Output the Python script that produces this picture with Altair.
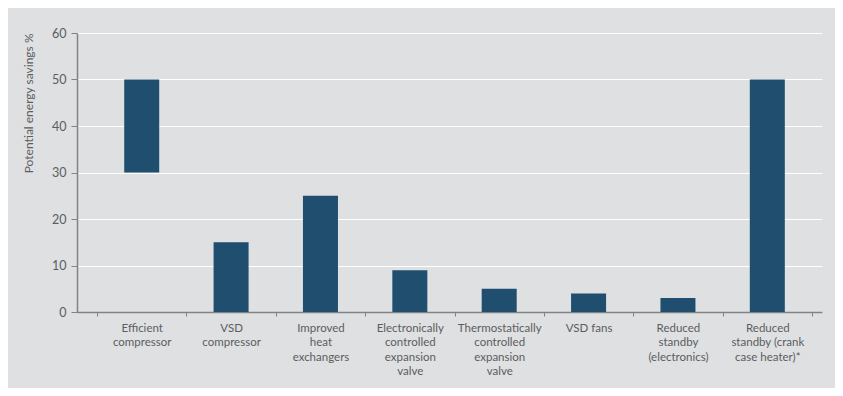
import altair as alt
import pandas as pd

categories = [
    "Efficient|compressor",
    "VSD|compressor",
    "Improved|heat|exchangers",
    "Electronically|controlled|expansion|valve",
    "Thermostatically|controlled|expansion|valve",
    "VSD fans",
    "Reduced|standby|(electronics)",
    "Reduced|standby (crank|case heater)*",
]
low_values = [30, 0, 0, 0, 0, 0, 0, 0]
high_values = [50, 15, 25, 9, 5, 4, 3, 50]
y_ticks = [0, 10, 20, 30, 40, 50, 60]

df = pd.DataFrame({"cat": categories, "low": low_values, "high": high_values})

FONT = "Lato"
TEXT = "#5b5d60"
AXIS = "#808285"
BG = "#dfe0e2"
BAR = "#1f4e6f"

chart = (
    alt.Chart(df)
    .mark_bar(size=35, color=BAR)
    .encode(
        x=alt.X(
            "cat:N",
            sort=categories,
            scale=alt.Scale(paddingInner=0, paddingOuter=0.168, align=0.667),
            axis=alt.Axis(
                title=None,
                labelAngle=0,
                labelExpr="split(datum.label, '|')",
                labelFont=FONT,
                labelFontSize=11.5,
                labelColor=TEXT,
                labelLineHeight=14.5,
                labelPadding=6,
                labelBaseline="top",
                tickBand="extent",
                tickSize=4,
                tickColor=AXIS,
                domainColor=AXIS,
                grid=False,
            ),
        ),
        y=alt.Y(
            "low:Q",
            scale=alt.Scale(domain=[0, 60], nice=False),
            axis=alt.Axis(
                title="Potential energy savings %",
                values=y_ticks,
                labelFont=FONT,
                labelFontSize=12.5,
                labelColor=TEXT,
                labelPadding=5,
                tickSize=6,
                tickColor=AXIS,
                domainColor=AXIS,
                grid=True,
                gridColor="#ffffff",
                gridWidth=1,
                titleFont=FONT,
                titleFontSize=12,
                titleFontWeight="normal",
                titleColor=TEXT,
                titleAngle=-90,
                titleAlign="right",
                titleBaseline="middle",
                titleX=-49,
                titleY=0,
            ),
        ),
        y2="high:Q",
    )
    .properties(
        width=745,
        height=279,
        background=BG,
        padding={"left": 69, "top": 25, "right": 13, "bottom": 76},
        autosize=alt.AutoSizeParams(type="none"),
    )
    .configure_view(stroke=None)
    .configure_axis(domainWidth=1.5)
)

chart.save("out.html", embed_options={"renderer": "svg", "actions": False})
